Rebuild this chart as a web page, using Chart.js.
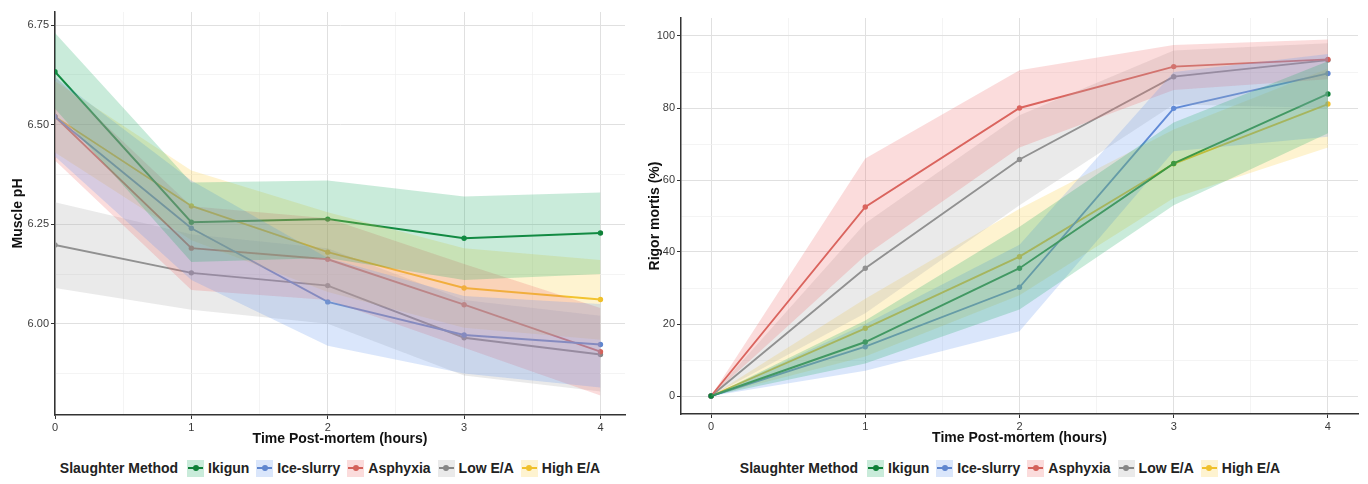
<!DOCTYPE html>
<html>
<head>
<meta charset="utf-8">
<script src="https://cdn.jsdelivr.net/npm/chart.js@4.4.0/dist/chart.umd.min.js"></script>
<style>
    body { margin: 0; background: #fff; width: 1368px; height: 484px; overflow: hidden; font-family: "Liberation Sans", Arial, sans-serif; }
    .panel { position: absolute; top: 0; height: 450px; }
    .legend { position: absolute; top: 456px; height: 24px; display: flex; justify-content: center; align-items: center;
              font-weight: bold; font-size: 14px; color: #222; white-space: nowrap; }
    .legend .key { display: inline-block; width: 17px; height: 17px; position: relative; margin: 0 4px 0 7px; }
    .legend .key i { position: absolute; left: 1px; right: 1px; top: 7.5px; height: 2px; }
    .legend .key b { position: absolute; left: 5.5px; top: 5.5px; width: 6px; height: 6px; border-radius: 50%; }
</style>
</head>
<body>
<div class="panel" style="left:0;width:640px"><canvas id="graficoPh"></canvas></div>
<div class="panel" style="left:640px;width:728px"><canvas id="graficoRigor"></canvas></div>
<div class="legend" id="legendaPh" style="left:0;width:660px"></div>
<div class="legend" id="legendaRigor" style="left:640px;width:740px"></div>

<script>
// ========== DADOS ==========
const hours = [0, 1, 2, 3, 4];
const methods = ['Ikigun', 'Ice-slurry', 'Asphyxia', 'Low E/A', 'High E/A'];
const lineColors = ['#0f8038', '#5f86cf', '#d4625a', '#878787', '#f0c02c'];
const bandColors = ['rgba(30,170,100,0.24)', 'rgba(100,150,240,0.24)', 'rgba(240,110,110,0.24)',
                    'rgba(175,175,175,0.26)', 'rgba(250,205,60,0.24)'];

// Muscle pH (média e faixa), uma linha por método
const phMean = [
    [6.633, 6.255, 6.263, 6.215, 6.228],   // Ikigun
    [6.520, 6.240, 6.055, 5.972, 5.948],   // Ice-slurry
    [6.520, 6.190, 6.162, 6.048, 5.930],   // Asphyxia
    [6.198, 6.128, 6.096, 5.965, 5.923],   // Low E/A
    [6.520, 6.296, 6.180, 6.090, 6.061]    // High E/A
];
const phLow = [
    [6.540, 6.155, 6.165, 6.110, 6.125],
    [6.420, 6.110, 5.945, 5.875, 5.840],
    [6.410, 6.085, 6.060, 5.940, 5.820],
    [6.090, 6.035, 6.000, 5.870, 5.830],
    [6.430, 6.210, 6.080, 5.990, 5.960]
];
const phHigh = [
    [6.730, 6.355, 6.360, 6.320, 6.330],
    [6.620, 6.360, 6.165, 6.070, 6.050],
    [6.620, 6.295, 6.265, 6.150, 6.040],
    [6.305, 6.225, 6.190, 6.060, 6.020],
    [6.610, 6.385, 6.280, 6.190, 6.160]
];

// Rigor mortis (%)
const rigorMean = [
    [0, 15.0, 35.5, 64.6, 83.9],
    [0, 13.7, 30.2, 79.9, 89.6],
    [0, 52.5, 80.0, 91.5, 93.5],
    [0, 35.5, 65.7, 88.7, 93.3],
    [0, 18.8, 38.7, 64.5, 81.1]
];
const rigorLow = [
    [0, 9, 24, 53, 73],
    [0, 7, 18, 68, 72],
    [0, 39, 69, 85, 88],
    [0, 23, 53, 81, 80],
    [0, 11, 28, 55, 69]
];
const rigorHigh = [
    [0, 21, 47, 76, 93],
    [0, 20, 42, 90, 95],
    [0, 66, 90.5, 97.5, 99],
    [0, 48, 78, 96, 98],
    [0, 27, 52, 74, 91]
];

const timeTicks = [0, 1, 2, 3, 4];
const phTicks = [6.00, 6.25, 6.50, 6.75];
const rigorTicks = [0, 20, 40, 60, 80, 100];

// ========== FUNÇÕES AUXILIARES ==========
// faixas primeiro no array: o Chart.js desenha o índice 0 por último,
// então as faixas ficam por cima das linhas (como o geom_ribbon do original)
function makeDatasets(mean, low, high) {
    const pts = row => row.map((v, i) => ({ x: hours[i], y: v }));
    const bands = [];
    methods.forEach((m, k) => {
        bands.push({ label: m + ' sup', data: pts(high[k]), borderWidth: 0, pointRadius: 0, fill: '+1', backgroundColor: bandColors[k], tension: 0 });
        bands.push({ label: m + ' inf', data: pts(low[k]), borderWidth: 0, pointRadius: 0, fill: false, tension: 0 });
    });
    const lines = methods.map((m, k) => ({
        label: m, data: pts(mean[k]), borderColor: lineColors[k], backgroundColor: lineColors[k],
        borderWidth: 1.9, pointRadius: 2.7, pointBorderWidth: 0, fill: false, tension: 0
    }));
    return bands.concat(lines);
}

// marcas principais + intermediárias (grade menor do ggplot)
function withMinor(major, min, max) {
    const half = (major[1] - major[0]) / 2;
    const out = [];
    for (let v = major[0] - 4 * half; v <= max + 1e-9; v += half) {
        const r = Math.round(v * 1e6) / 1e6;
        if (r >= min - 1e-9) out.push(r);
    }
    return out;
}

function axis(major, min, max, title, fmt, size, titlePad) {
    const isMajor = v => major.includes(v);
    return {
        type: 'linear', min, max,
        afterBuildTicks: s => { s.ticks = withMinor(major, min, max).map(v => ({ value: v })); },
        afterFit: s => { if (s.isHorizontal()) s.height = size; else s.width = size; },
        border: { display: true, color: '#333', width: 1.5 },
        grid: {
            color: c => isMajor(c.tick.value) ? '#e0e0e0' : '#efefef',
            lineWidth: c => isMajor(c.tick.value) ? 1 : 0.7,
            tickColor: c => isMajor(c.tick.value) ? '#333' : 'rgba(0,0,0,0)',
            tickLength: 4
        },
        ticks: {
            autoSkip: false, maxRotation: 0, padding: 2,
            color: '#3a3a3a', font: { family: '"Liberation Sans", Arial', size: 11 },
            callback: v => isMajor(v) ? fmt(v) : ''
        },
        title: {
            display: true, text: title, color: '#111', padding: titlePad,
            font: { family: '"Liberation Sans", Arial', size: 14, weight: 'bold' }
        }
    };
}

function buildChart(el, mean, low, high, xScale, yScale, padding) {
    return new Chart(el, {
        type: 'line',
        data: { datasets: makeDatasets(mean, low, high) },
        options: {
            responsive: true, maintainAspectRatio: false, animation: false,
            layout: { padding },
            plugins: { legend: { display: false }, tooltip: { enabled: false } },
            scales: { x: xScale, y: yScale }
        }
    });
}

function buildLegend(el) {
    let html = '<span style="margin-right:2px">Slaughter Method</span>';
    methods.forEach((m, k) => {
        html += `<span class="key" style="background:${bandColors[k]}"><i style="background:${lineColors[k]}"></i><b style="background:${lineColors[k]}"></b></span><span>${m}</span>`;
    });
    el.innerHTML = html;
}

// ========== GRÁFICOS ==========
buildChart(document.getElementById('graficoPh'), phMean, phLow, phHigh,
    axis(timeTicks, 0, 4.18, 'Time Post-mortem (hours)', v => String(v), 35, { top: 0, bottom: 2 }),
    axis(phTicks, 5.771, 6.783, 'Muscle pH', v => v.toFixed(2), 55, { top: 10, bottom: 0 }),
    { top: 12, right: 15, left: 0, bottom: 0 });

buildChart(document.getElementById('graficoRigor'), rigorMean, rigorLow, rigorHigh,
    axis(timeTicks, -0.195, 4.195, 'Time Post-mortem (hours)', v => String(v), 35, { top: 0, bottom: 2 }),
    axis(rigorTicks, -5, 105, 'Rigor mortis (%)', v => String(v), 41, { top: 7, bottom: 0 }),
    { top: 18, right: 10, left: 0, bottom: 1 });

buildLegend(document.getElementById('legendaPh'));
buildLegend(document.getElementById('legendaRigor'));
</script>
</body>
</html>
